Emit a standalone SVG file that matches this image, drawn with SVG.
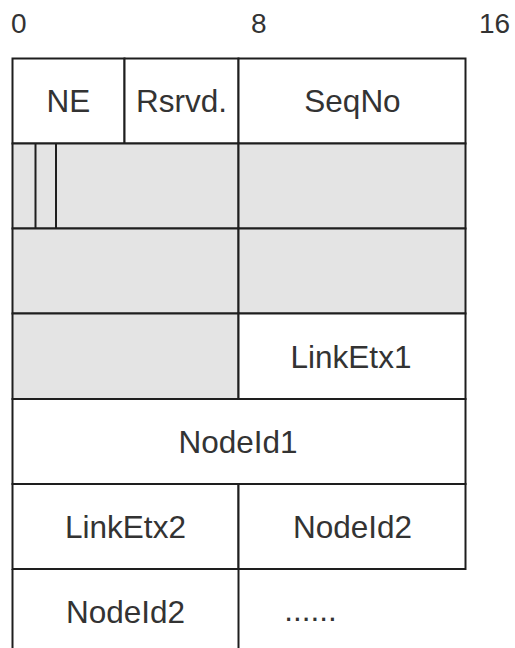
<svg xmlns="http://www.w3.org/2000/svg" width="515" height="648" viewBox="0 0 515 648">
  <style>
    .cell { fill: #ffffff; stroke: #1e1e1e; stroke-width: 2; }
    .shade { fill: #e4e4e4; stroke: #1e1e1e; stroke-width: 2; }
    .rule { stroke: #1e1e1e; stroke-width: 2; fill: none; }
    .lbl { font-family: "Liberation Sans", Arial, sans-serif; font-size: 31.5px; fill: #333333; text-anchor: middle; }
    .bit { font-family: "Liberation Sans", Arial, sans-serif; font-size: 28px; fill: #333333; }
  </style>

  <!-- bit offsets -->
  <g id="bit-scale">
    <text class="bit" x="11" y="33">0</text>
    <text class="bit" x="251" y="33">8</text>
    <text class="bit" x="479" y="33">16</text>
  </g>

  <!-- row 1 -->
  <g id="ne">
    <rect class="cell" x="12.5" y="58.5" width="112" height="85"/>
    <text class="lbl" x="68.5" y="111.5">NE</text>
  </g>
  <g id="rsrvd">
    <rect class="cell" x="124.5" y="58.5" width="114" height="85"/>
    <text class="lbl" x="181.5" y="111.5">Rsrvd.</text>
  </g>
  <g id="seqno">
    <rect class="cell" x="238.5" y="58.5" width="227" height="85"/>
    <text class="lbl" x="352.5" y="111.5">SeqNo</text>
  </g>

  <!-- row 2: shaded flags -->
  <g id="flags">
    <rect class="shade" x="12.5" y="143.5" width="226" height="85"/>
    <line class="rule" x1="35.5" y1="143.5" x2="35.5" y2="228.5"/>
    <line class="rule" x1="56" y1="143.5" x2="56" y2="228.5"/>
  </g>
  <g id="row2-right">
    <rect class="shade" x="238.5" y="143.5" width="227" height="85"/>
  </g>

  <!-- row 3 -->
  <g id="row3-left">
    <rect class="shade" x="12.5" y="228.5" width="226" height="85"/>
  </g>
  <g id="row3-right">
    <rect class="shade" x="238.5" y="228.5" width="227" height="85"/>
  </g>

  <!-- row 4 -->
  <g id="row4-left">
    <rect class="shade" x="12.5" y="313.5" width="226" height="85.5"/>
  </g>
  <g id="linketx1">
    <rect class="cell" x="238.5" y="313.5" width="227" height="85.5"/>
    <text class="lbl" x="351" y="368">LinkEtx1</text>
  </g>

  <!-- row 5 -->
  <g id="nodeid1">
    <rect class="cell" x="12.5" y="399" width="453" height="85"/>
    <text class="lbl" x="238" y="452.5">NodeId1</text>
  </g>

  <!-- row 6 -->
  <g id="linketx2">
    <rect class="cell" x="12.5" y="484" width="226" height="85"/>
    <text class="lbl" x="125.5" y="537.5">LinkEtx2</text>
  </g>
  <g id="nodeid2-a">
    <rect class="cell" x="238.5" y="484" width="227" height="85"/>
    <text class="lbl" x="352.5" y="537.5">NodeId2</text>
  </g>

  <!-- row 7: open-ended -->
  <g id="nodeid2-b">
    <line class="rule" x1="12.5" y1="569" x2="12.5" y2="648"/>
    <text class="lbl" x="125.5" y="622.5">NodeId2</text>
  </g>
  <g id="more">
    <line class="rule" x1="238.5" y1="569" x2="238.5" y2="648"/>
    <text class="lbl" x="310.5" y="621">......</text>
  </g>
</svg>
